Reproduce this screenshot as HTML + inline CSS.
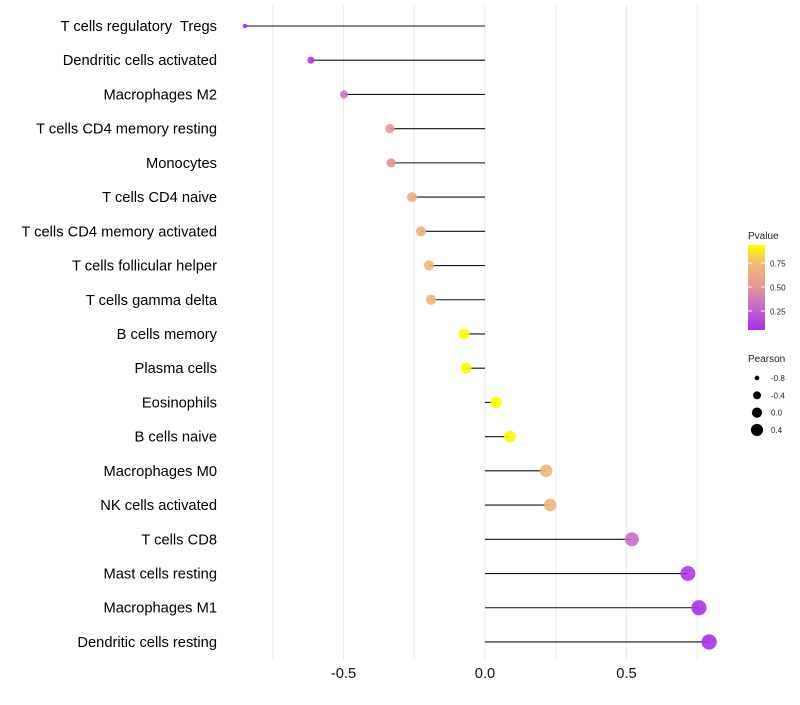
<!DOCTYPE html>
<html><head><meta charset="utf-8"><style>
body{margin:0;background:#fff;font-family:"Liberation Sans",sans-serif}
svg text{font-family:"Liberation Sans",sans-serif;white-space:pre}
</style></head><body>
<svg id="c" width="800" height="700"></svg>
<script>
const categories=["T cells regulatory  Tregs","Dendritic cells activated","Macrophages M2","T cells CD4 memory resting","Monocytes","T cells CD4 naive","T cells CD4 memory activated","T cells follicular helper","T cells gamma delta","B cells memory","Plasma cells","Eosinophils","B cells naive","Macrophages M0","NK cells activated","T cells CD8","Mast cells resting","Macrophages M1","Dendritic cells resting"];
const pearson=[-0.848,-0.615,-0.498,-0.336,-0.332,-0.258,-0.226,-0.198,-0.191,-0.074,-0.067,0.039,0.088,0.216,0.23,0.519,0.717,0.756,0.792];
const pvalue=[0.03,0.1,0.32,0.5,0.5,0.65,0.7,0.73,0.74,0.94,0.94,0.96,0.92,0.73,0.71,0.3,0.1,0.07,0.06];
const xTicks=[-0.5,0,0.5];
const xTickLabels=["-0.5","0.0","0.5"];
const minorTicks=[-0.75,-0.25,0.25,0.75];
const legendP=[0.25,0.5,0.75];
const legendR=[-0.8,-0.4,0.0,0.4];
const NS="http://www.w3.org/2000/svg";
const svg=document.getElementById('c');
function X(v){return 485+v*283;}
function Y(i){return 26+i*34.22;}
function R(v){return Math.sqrt(5+32.5*(v+0.85));}
function lerp(a,b,t){return a.map((x,i)=>Math.round(x+(b[i]-x)*t));}
function col(p){const s=[[0,[160,32,240]],[0.3,[200,110,200]],[0.5,[230,150,150]],[0.75,[240,185,120]],[0.95,[255,255,0]]];
 p=Math.max(0,Math.min(0.95,p));for(let i=0;i<s.length-1;i++){if(p<=s[i+1][0]){const c=lerp(s[i][1],s[i+1][1],(p-s[i][0])/(s[i+1][0]-s[i][0]));return `rgb(${c})`;}}return 'rgb(255,255,0)';}
function el(t,a){const e=document.createElementNS(NS,t);for(const k in a)e.setAttribute(k,a[k]);svg.appendChild(e);return e;}
minorTicks.concat(xTicks).forEach(v=>{const g=el('line',{x1:X(v),x2:X(v),y1:5,y2:660,stroke:'#ebebeb','stroke-width':1});

});
xTicks.forEach((v,i)=>{const t=el('text',{x:X(v),y:678,'text-anchor':'middle','font-size':14.7,fill:'#111'});t.textContent=xTickLabels[i];

});
categories.forEach((c,i)=>{
 const t=el('text',{x:217,y:Y(i)+5,'text-anchor':'end','font-size':14.7,fill:'#000'});t.textContent=c;
 
 
 const l=el('line',{x1:X(0),x2:X(pearson[i]),y1:Y(i),y2:Y(i),stroke:'#111','stroke-width':1.1});
 
 
 const d=el('circle',{cx:X(pearson[i]),cy:Y(i),r:R(pearson[i]),fill:col(pvalue[i]),opacity:0.9});
 
 
});
const defs=el('defs',{});defs.innerHTML='<linearGradient id="g" x1="0" y1="1" x2="0" y2="0"><stop offset="0" stop-color="'+col(0.05)+'"/><stop offset="0.3" stop-color="'+col(0.3)+'"/><stop offset="0.5" stop-color="'+col(0.5)+'"/><stop offset="0.78" stop-color="'+col(0.75)+'"/><stop offset="1" stop-color="'+col(0.95)+'"/></linearGradient>';
let t=el('text',{x:748,y:239,'font-size':10,fill:'#222'});t.textContent='Pvalue';


const bar=el('rect',{x:748,y:245,width:17,height:85,fill:'url(#g)'});


legendP.forEach(p=>{const y=311-(p-0.25)*96;
 el('line',{x1:748,x2:752,y1:y,y2:y,stroke:'#fff'});el('line',{x1:761,x2:765,y1:y,y2:y,stroke:'#fff'});
 const tt=el('text',{x:770,y:y+3.5,'font-size':8,fill:'#222'});tt.textContent=p.toFixed(2);
 
 });
t=el('text',{x:748,y:362,'font-size':10,fill:'#222'});t.textContent='Pearson';


legendR.forEach((v,i)=>{const y=378+i*17.3;
 const c=el('circle',{cx:757,cy:y,r:R(v)*0.9,fill:'#000'});
 
 
 const tt=el('text',{x:771,y:y+3,'font-size':8,fill:'#222'});tt.textContent=v.toFixed(1);
 
 });
</script>
</body></html>
